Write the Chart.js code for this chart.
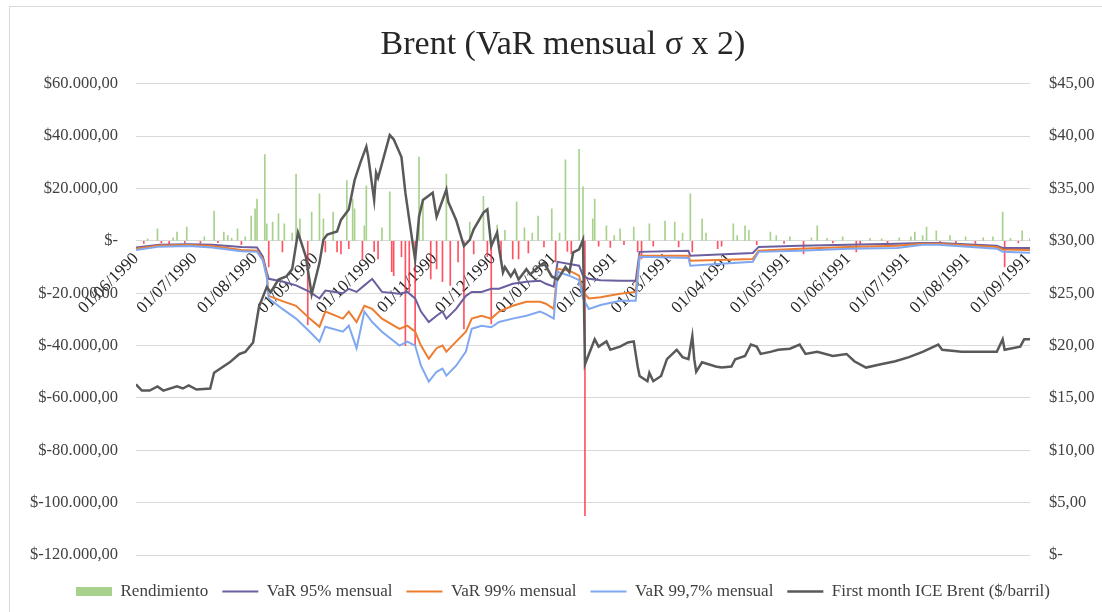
<!DOCTYPE html>
<html>
<head>
<meta charset="utf-8">
<script src="https://cdn.jsdelivr.net/npm/chart.js@4.4.1/dist/chart.umd.min.js"></script>
<style>
  html, body { margin: 0; padding: 0; background: #fff; }
  #frame { position: absolute; left: 9px; top: 6px; width: 1100px; height: 610px;
           border-left: 1px solid #d9d9d9; border-top: 1px solid #d9d9d9; }
  #wrap { position: absolute; left: 0; top: 0; width: 1102px; height: 612px; }
</style>
</head>
<body>
<div id="frame"></div>
<div id="wrap"><canvas id="myChart" width="1102" height="612"></canvas></div>
<script>
// Axis month ticks
const tickLabels = ["01/06/1990", "01/07/1990", "01/08/1990", "01/09/1990", "01/10/1990", "01/11/1990",
  "01/12/1990", "01/01/1991", "01/02/1991", "01/03/1991", "01/04/1991", "01/05/1991",
  "01/06/1991", "01/07/1991", "01/08/1991", "01/09/1991"];

// First month ICE Brent ($/barril), right axis
const brentDates = ["01/06/1990", "04/06/1990", "08/06/1990", "12/06/1990", "15/06/1990", "22/06/1990",
  "25/06/1990", "28/06/1990", "02/07/1990", "09/07/1990", "11/07/1990", "19/07/1990", "24/07/1990",
  "27/07/1990", "31/07/1990", "03/08/1990", "07/08/1990", "09/08/1990", "13/08/1990", "17/08/1990",
  "20/08/1990", "23/08/1990", "27/08/1990", "30/08/1990", "03/09/1990", "05/09/1990", "07/09/1990",
  "12/09/1990", "14/09/1990", "18/09/1990", "21/09/1990", "24/09/1990", "27/09/1990", "28/09/1990",
  "01/10/1990", "02/10/1990", "03/10/1990", "09/10/1990", "11/10/1990", "15/10/1990", "17/10/1990",
  "19/10/1990", "22/10/1990", "24/10/1990", "26/10/1990", "31/10/1990", "02/11/1990", "07/11/1990",
  "08/11/1990", "12/11/1990", "16/11/1990", "19/11/1990", "21/11/1990", "26/11/1990", "28/11/1990",
  "30/11/1990", "03/12/1990", "04/12/1990", "06/12/1990", "07/12/1990", "10/12/1990", "12/12/1990",
  "14/12/1990", "18/12/1990", "20/12/1990", "24/12/1990", "27/12/1990", "31/12/1990", "03/01/1991",
  "07/01/1991", "09/01/1991", "11/01/1991", "14/01/1991", "16/01/1991", "17/01/1991", "18/01/1991",
  "22/01/1991", "24/01/1991", "28/01/1991", "30/01/1991", "04/02/1991", "08/02/1991", "11/02/1991",
  "13/02/1991", "14/02/1991", "18/02/1991", "19/02/1991", "21/02/1991", "25/02/1991", "28/02/1991",
  "05/03/1991", "08/03/1991", "11/03/1991", "13/03/1991", "14/03/1991", "15/03/1991", "18/03/1991",
  "25/03/1991", "28/03/1991", "02/04/1991", "04/04/1991", "09/04/1991", "12/04/1991", "15/04/1991",
  "17/04/1991", "22/04/1991", "26/04/1991", "02/05/1991", "07/05/1991", "10/05/1991", "16/05/1991",
  "24/05/1991", "31/05/1991", "04/06/1991", "10/06/1991", "17/06/1991", "25/06/1991", "02/07/1991",
  "09/07/1991", "17/07/1991", "19/07/1991", "29/07/1991", "12/08/1991", "16/08/1991", "19/08/1991",
  "20/08/1991", "28/08/1991", "30/08/1991", "02/09/1991"];
const brentPrice = [16.3, 15.7, 15.7, 16.1, 15.7, 16.1,
  15.9, 16.2, 15.8, 15.9, 17.4, 18.4, 19.2,
  19.4, 20.3, 23.7, 25.6, 25.1, 26.3, 26.6,
  27.3, 30.8, 28.5, 24.9, 27.9, 30.1, 30.6,
  30.9, 32.0, 33.0, 35.8, 37.5, 39.0, 38.0,
  33.9, 36.5, 36.0, 40.1, 39.7, 38.0, 34.6,
  32.0, 28.2, 32.3, 33.9, 34.6, 32.3, 34.9,
  33.7, 32.0, 29.5, 30.1, 31.1, 32.7, 33.0,
  29.5, 30.8, 29.3, 27.0, 27.5, 26.6, 27.2,
  26.3, 27.3, 26.8, 27.5, 27.9, 26.6, 26.3,
  27.5, 27.0, 28.9, 29.2, 30.1, 18.2, 18.7,
  20.6, 19.9, 20.4, 19.6, 19.9, 20.3, 20.4,
  18.0, 17.1, 16.6, 17.4, 16.6, 17.1, 18.7,
  19.6, 18.9, 18.7, 20.9, 18.7, 17.5, 18.4,
  18.0, 17.9, 18.0, 18.7, 19.0, 20.1, 19.9,
  19.2, 19.4, 19.6, 19.7, 20.1, 19.2, 19.4,
  19.0, 19.2, 18.5, 17.9, 18.2, 18.5, 18.9,
  19.4, 20.1, 19.6, 19.4, 19.4, 19.4, 20.6,
  19.6, 19.9, 20.6, 20.6];

// VaR mensual series, left axis
const varDates = ["01/06/1990", "13/06/1990", "28/06/1990", "10/07/1990", "25/07/1990", "02/08/1990",
  "05/08/1990", "07/08/1990", "08/08/1990", "15/08/1990", "22/08/1990", "29/08/1990", "03/09/1990",
  "06/09/1990", "15/09/1990", "18/09/1990", "22/09/1990", "26/09/1990", "30/09/1990", "05/10/1990",
  "14/10/1990", "18/10/1990", "22/10/1990", "25/10/1990", "29/10/1990", "02/11/1990", "05/11/1990",
  "07/11/1990", "12/11/1990", "17/11/1990", "20/11/1990", "25/11/1990", "30/11/1990", "04/12/1990",
  "11/12/1990", "18/12/1990", "25/12/1990", "28/12/1990", "01/01/1991", "03/01/1991", "09/01/1991",
  "14/01/1991", "16/01/1991", "19/01/1991", "25/01/1991", "04/02/1991", "12/02/1991", "14/02/1991",
  "11/03/1991", "12/03/1991", "13/04/1991", "16/04/1991", "07/05/1991", "01/06/1991", "26/06/1991",
  "09/07/1991", "17/07/1991", "16/08/1991", "19/08/1991", "02/09/1991"];
const var95 = [-2500, -1500, -1300, -1500, -2300, -2500,
  -6000, -12000, -14500, -15500, -17000, -19500, -22000,
  -19000, -20000, -18300, -19500, -17000, -14500, -19500,
  -20200, -19500, -22000, -27000, -31000, -28600, -27000,
  -29700, -26000, -21000, -19500, -19500, -18300, -18300,
  -16400, -15600, -15200, -16400, -17500, -8000, -8800,
  -9500, -13300, -14500, -15000, -15200, -15200, -4200,
  -3800, -5700, -4600, -2300, -1900, -1500, -1100,
  -800, -800, -1900, -2700, -2700];
const var99 = [-3000, -1800, -1600, -2000, -3500, -3800,
  -6900, -13000, -21000, -23000, -24800, -29700, -32800,
  -27000, -29700, -27000, -31000, -24800, -26000, -29700,
  -33600, -32400, -34700, -40000, -45000, -41000, -40000,
  -42300, -38500, -34700, -29700, -28600, -29700, -27000,
  -24800, -23300, -23300, -24000, -26000, -10700, -11400,
  -13300, -19500, -22000, -21500, -20200, -19500, -5700,
  -5700, -7600, -6900, -3800, -3000, -2300, -1900,
  -1100, -1100, -2300, -3300, -3500];
const var997 = [-3500, -2200, -2000, -2500, -4000, -4200,
  -7500, -14000, -22000, -26000, -29700, -34700, -38500,
  -32800, -34700, -32400, -41000, -27000, -31000, -34700,
  -40000, -38500, -40000, -47700, -53800, -50000, -48800,
  -51500, -47700, -42300, -33600, -32400, -33000, -31000,
  -29700, -28600, -27000, -28000, -29700, -11800, -13300,
  -15000, -22000, -26000, -24500, -22900, -22900, -6100,
  -6500, -9500, -8000, -4200, -3800, -3000, -2700,
  -1500, -1500, -3000, -4200, -4500];

// Rendimiento (daily), left axis
const retDates = ["05/06/1990", "07/06/1990", "12/06/1990", "14/06/1990", "18/06/1990", "20/06/1990",
  "22/06/1990", "26/06/1990", "27/06/1990", "04/07/1990", "06/07/1990", "11/07/1990", "13/07/1990",
  "16/07/1990", "18/07/1990", "20/07/1990", "23/07/1990", "25/07/1990", "27/07/1990", "30/07/1990",
  "01/08/1990", "02/08/1990", "06/08/1990", "07/08/1990", "08/08/1990", "10/08/1990", "13/08/1990",
  "15/08/1990", "16/08/1990", "20/08/1990", "22/08/1990", "24/08/1990", "28/08/1990", "30/08/1990",
  "03/09/1990", "05/09/1990", "06/09/1990", "10/09/1990", "12/09/1990", "14/09/1990", "17/09/1990",
  "18/09/1990", "20/09/1990", "21/09/1990", "25/09/1990", "26/09/1990", "27/09/1990", "01/10/1990",
  "03/10/1990", "05/10/1990", "09/10/1990", "10/10/1990", "11/10/1990", "15/10/1990", "17/10/1990",
  "19/10/1990", "22/10/1990", "24/10/1990", "26/10/1990", "30/10/1990", "02/11/1990", "05/11/1990",
  "07/11/1990", "09/11/1990", "13/11/1990", "16/11/1990", "19/11/1990", "21/11/1990", "26/11/1990",
  "28/11/1990", "30/11/1990", "03/12/1990", "05/12/1990", "07/12/1990", "11/12/1990", "13/12/1990",
  "14/12/1990", "17/12/1990", "19/12/1990", "21/12/1990", "24/12/1990", "27/12/1990", "31/12/1990",
  "02/01/1991", "04/01/1991", "07/01/1991", "08/01/1991", "10/01/1991", "14/01/1991", "16/01/1991",
  "17/01/1991", "21/01/1991", "22/01/1991", "24/01/1991", "28/01/1991", "30/01/1991", "01/02/1991",
  "04/02/1991", "06/02/1991", "11/02/1991", "13/02/1991", "15/02/1991", "19/02/1991", "21/02/1991",
  "27/02/1991", "04/03/1991", "06/03/1991", "08/03/1991", "12/03/1991", "13/03/1991", "18/03/1991",
  "20/03/1991", "26/03/1991", "28/03/1991", "03/04/1991", "05/04/1991", "09/04/1991", "11/04/1991",
  "15/04/1991", "22/04/1991", "25/04/1991", "29/04/1991", "02/05/1991", "09/05/1991", "13/05/1991",
  "16/05/1991", "21/05/1991", "24/05/1991", "29/05/1991", "05/06/1991", "07/06/1991", "12/06/1991",
  "18/06/1991", "21/06/1991", "27/06/1991", "03/07/1991", "05/07/1991", "09/07/1991", "11/07/1991",
  "16/07/1991", "18/07/1991", "23/07/1991", "26/07/1991", "31/07/1991", "05/08/1991", "09/08/1991",
  "14/08/1991", "19/08/1991", "20/08/1991", "23/08/1991", "27/08/1991", "29/08/1991", "02/09/1991"];
const retValues = [-1000, 800, 4600, -800, -1500, 1200,
  3400, -900, 5300, -1000, 1500, 11400, -700,
  3400, 2000, 1000, 4600, -1500, 1500, 9500,
  12200, 16000, 33000, 6500, -10000, 7200, 10300,
  -4200, 6500, 3000, 25500, 8400, -32000, 11000,
  18000, 8400, -4200, 11000, -4200, -5000, 23000,
  -3000, 16000, 12200, -6900, 5700, 21000, -4000,
  -6900, 5000, 18700, -11800, -13300, -6000, -40000,
  -19500, -40000, 32000, 16000, -14500, -10700, -15600,
  25500, -17000, -8000, -33600, 7200, -5000, 17000,
  -6000, -31700, 6000, -8000, 4000, -6900, 14900,
  -6900, 5000, -4600, 3000, 9500, -2300, 12200,
  -8000, 3000, 31000, -4000, -5000, 35000, 20600,
  -105000, 8400, 16000, -2000, 5700, -2500, 2000,
  4600, -1500, 5300, -4200, -6900, 6500, -2000,
  7600, 7200, -2300, 3000, 18000, -4200, 8400,
  3000, -3000, -2000, 6500, 2000, 5700, 4000,
  -1500, 3400, 2000, -1000, 1500, -5000, 1200,
  5700, 1000, -800, 1500, -4200, -1200, 1000,
  800, -900, 1200, 1500, 3400, 2000, 5300,
  3800, -1000, 2000, -1200, 1500, -1000, 1200,
  1500, 11000, -10000, 1000, -800, 3800, 1000];

const SERIF = '"Liberation Serif", "Times New Roman", serif';
const GREEN = "#a9d18e";
const RED = "rgba(255, 40, 60, 0.8)";

function toDay(s) {
  // days since 01/06/1990
  const [d, m, y] = s.split("/").map(Number);
  return (Date.UTC(y, m - 1, d) - Date.UTC(1990, 5, 1)) / 86400000;
}

function money(v) {
  if (v === 0) return "$-";
  const parts = Math.abs(v).toFixed(2).split(".");
  const int = parts[0].replace(/\B(?=(\d{3})+(?!\d))/g, ".");
  return "$" + (v < 0 ? "-" : "") + int + "," + parts[1];
}

function points(dates, values) {
  return dates.map((d, i) => ({ x: toDay(d), y: values[i] }));
}

window.addEventListener("load", function () {
  const data = {
    datasets: [
      {
        type: "bar",
        label: "Rendimiento",
        data: points(retDates, retValues),
        backgroundColor: retValues.map((v) => (v < 0 ? RED : GREEN)),
        barThickness: 1,
        yAxisID: "y",
        order: 5,
      },
      {
        type: "line",
        label: "VaR 95% mensual",
        data: points(varDates, var95),
        borderColor: "#6b5fa0",
        backgroundColor: "#6b5fa0",
        borderWidth: 2,
        pointRadius: 0,
        pointStyle: "line",
        yAxisID: "y",
        order: 3,
      },
      {
        type: "line",
        label: "VaR 99% mensual",
        data: points(varDates, var99),
        borderColor: "#ed7d31",
        backgroundColor: "#ed7d31",
        borderWidth: 2,
        pointRadius: 0,
        pointStyle: "line",
        yAxisID: "y",
        order: 2,
      },
      {
        type: "line",
        label: "VaR 99,7% mensual",
        data: points(varDates, var997),
        borderColor: "#7fa8f0",
        backgroundColor: "#7fa8f0",
        borderWidth: 2,
        pointRadius: 0,
        pointStyle: "line",
        yAxisID: "y",
        order: 1,
      },
      {
        type: "line",
        label: "First month ICE Brent ($/barril)",
        data: points(brentDates, brentPrice),
        borderColor: "#595959",
        backgroundColor: "#595959",
        borderWidth: 2.5,
        pointRadius: 0,
        pointStyle: "line",
        yAxisID: "y2",
        order: 0,
      },
    ],
  };

  const config = {
    type: "bar",
    data,
    options: {
      responsive: false,
      animation: false,
      devicePixelRatio: 1,
      layout: { padding: { left: 24, right: 0, top: 0, bottom: 2 } },
      plugins: {
        tooltip: { enabled: false },
        title: {
          display: true,
          text: "Brent (VaR mensual σ x 2)",
          color: "#262626",
          font: { family: SERIF, size: 34, weight: "normal" },
          padding: { top: 25, bottom: 18 },
        },
        legend: {
          position: "bottom",
          title: { display: true, text: " ", font: { size: 1 }, padding: { top: 12.8, bottom: 0 } },
          labels: {
            usePointStyle: true,
            pointStyleWidth: 36,
            boxHeight: 9,
            padding: 14,
            color: "#404040",
            font: { family: SERIF, size: 17 },
            sort: (a, b) => a.datasetIndex - b.datasetIndex,
            generateLabels: (chart) => {
              const items = Chart.defaults.plugins.legend.labels.generateLabels(chart);
              items.forEach((item) => {
                if (item.datasetIndex === 0) {
                  item.fillStyle = GREEN;
                  item.strokeStyle = GREEN;
                  item.lineWidth = 0;
                  item.pointStyle = "rect";
                }
              });
              return items;
            },
          },
        },
      },
      scales: {
        x: {
          type: "linear",
          position: { y: 0 },
          min: 0,
          max: 458,
          offset: false,
          grid: { display: false, drawTicks: false },
          border: { display: true, color: "#d9d9d9" },
          afterBuildTicks: (scale) => {
            scale.ticks = tickLabels.map((t) => ({ value: toDay(t) }));
          },
          ticks: {
            autoSkip: false,
            minRotation: 45,
            maxRotation: 45,
            padding: 8,
            color: "#262626",
            font: { family: SERIF, size: 17 },
            callback: (value, index) => tickLabels[index],
          },
        },
        y: {
          type: "linear",
          position: "left",
          min: -120000,
          max: 60000,
          grid: { color: "#d9d9d9", drawTicks: false },
          border: { display: false },
          ticks: {
            stepSize: 20000,
            padding: 18,
            color: "#404040",
            font: { family: SERIF, size: 16.5 },
            callback: (v) => money(v),
          },
          afterFit: (scale) => { scale.width = 112; },
        },
        y2: {
          type: "linear",
          position: "right",
          min: 0,
          max: 45,
          grid: { display: false, drawTicks: false },
          border: { display: false },
          ticks: {
            stepSize: 5,
            padding: 19,
            color: "#404040",
            font: { family: SERIF, size: 16.5 },
            callback: (v) => money(v),
          },
          afterFit: (scale) => { scale.width = 72; },
        },
      },
    },
  };

  const myChart = new Chart(document.getElementById("myChart"), config);
});
</script>
</body>
</html>
